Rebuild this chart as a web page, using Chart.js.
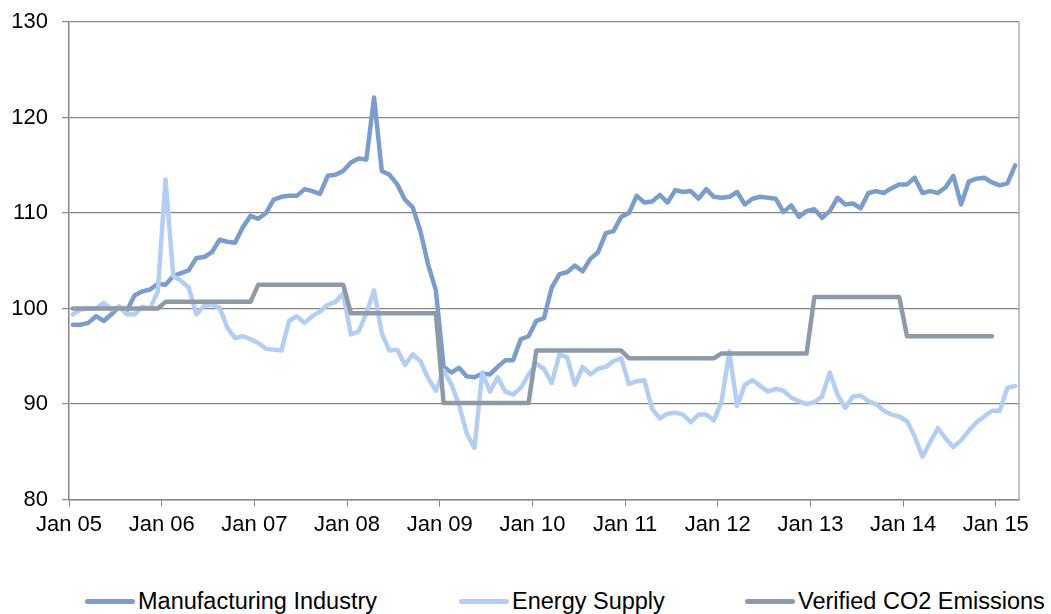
<!DOCTYPE html>
<html>
<head>
<meta charset="utf-8">
<script src="https://cdn.jsdelivr.net/npm/chart.js@4.4.1/dist/chart.umd.min.js"></script>
<style>
    html, body { margin: 0; padding: 0; background: #fff; }
    #wrap { position: relative; width: 1051px; height: 614px; overflow: hidden; }
    #chartBox { position: absolute; left: 0; top: 0; width: 1051px; height: 543px; }
    .legend-item {
        position: absolute; top: 588px; display: flex; align-items: center;
        font: 23.5px "Liberation Sans", Arial, sans-serif; color: #000; white-space: nowrap;
    }
    .legend-line { width: 50px; height: 5px; border-radius: 3px; margin-right: 3px; }
</style>
</head>
<body>
<div id="wrap">
    <div id="chartBox"><canvas id="chartEmissions"></canvas></div>
    <div id="legend"></div>
</div>
<script>
// Tick labels (one per January)
const yearLabels = ['Jan 05', 'Jan 06', 'Jan 07', 'Jan 08', 'Jan 09', 'Jan 10',
    'Jan 11', 'Jan 12', 'Jan 13', 'Jan 14', 'Jan 15'];

// Monthly index, Jan 2005 - Mar 2015
const manufacturing = [
    98.3, 98.3, 98.5, 99.2, 98.7, 99.4, 100.2, 99.8, 101.4, 101.8, 102.0, 102.6,
    102.5, 103.4, 103.7, 104.0, 105.3, 105.4, 105.9, 107.2, 107.0, 106.9, 108.5, 109.7,
    109.4, 110.0, 111.4, 111.7, 111.8, 111.8, 112.5, 112.3, 112.0, 113.9, 114.0, 114.4,
    115.3, 115.7, 115.6, 122.1, 114.4, 114.0, 113.0, 111.4, 110.6, 108.1, 104.6, 101.9,
    93.9, 93.3, 93.8, 92.9, 92.8, 93.2, 93.1, 93.9, 94.6, 94.6, 96.8, 97.1,
    98.7, 99.0, 102.2, 103.6, 103.8, 104.5, 103.9, 105.2, 105.9, 107.9, 108.1, 109.6,
    110.0, 111.8, 111.1, 111.2, 111.9, 111.1, 112.4, 112.2, 112.3, 111.5, 112.5, 111.7,
    111.6, 111.7, 112.2, 110.9, 111.5, 111.7, 111.6, 111.5, 110.1, 110.8, 109.6, 110.2,
    110.4, 109.5, 110.2, 111.6, 110.9, 111.0, 110.5, 112.1, 112.3, 112.1, 112.6, 113.0,
    113.0, 113.7, 112.1, 112.3, 112.1, 112.7, 113.9, 110.9, 113.3, 113.6, 113.7, 113.2,
    112.9, 113.1, 115.0
];

const energySupply = [
    99.4, 99.9, 100.0, 100.0, 100.6, 99.9, 100.2, 99.4, 99.4, 100.2, 100.0, 101.8,
    113.5, 103.4, 102.9, 102.2, 99.4, 100.3, 100.4, 100.1, 98.0, 96.9, 97.1, 96.8,
    96.4, 95.8, 95.7, 95.6, 98.7, 99.2, 98.5, 99.2, 99.7, 100.4, 100.7, 101.6,
    97.3, 97.6, 99.5, 101.9, 97.4, 95.6, 95.7, 94.1, 95.2, 94.5, 92.7, 91.4,
    93.5, 92.1, 89.9, 86.9, 85.4, 93.3, 91.3, 92.8, 91.3, 91.0, 91.7, 93.1,
    94.2, 93.7, 92.2, 95.2, 94.9, 92.0, 93.9, 93.1, 93.7, 93.9, 94.5, 94.8,
    92.1, 92.4, 92.5, 89.5, 88.5, 89.0, 89.1, 88.9, 88.1, 88.9, 88.9, 88.3,
    90.3, 95.5, 89.8, 92.0, 92.5, 91.9, 91.3, 91.6, 91.4, 90.7, 90.3, 90.0,
    90.2, 90.8, 93.3, 91.0, 89.6, 90.8, 90.9, 90.3, 90.0, 89.3, 88.9, 88.7,
    88.2, 86.6, 84.5, 86.0, 87.5, 86.4, 85.5, 86.2, 87.2, 88.1, 88.7, 89.3,
    89.3, 91.7, 91.9
];

// Verified CO2 emissions, one value per year 2005 - 2014
const verifiedCO2 = [100.0, 100.7, 102.5, 99.5, 90.1, 95.6, 94.8, 95.3, 101.2, 97.1];

const fontFamily = '"Liberation Sans", Arial, sans-serif';
const gridGrey = '#868686';

// monthly series -> points centred in each month slot
function toPoints(values) {
    return values.map((v, i) => ({ x: i + 0.5, y: v }));
}

// yearly value held flat from January to December
function yearlyPoints(values) {
    const pts = [];
    values.forEach((v, yr) => {
        for (let m = 0; m < 12; m++) {
            pts.push({ x: yr * 12 + m + 0.5, y: v });
        }
    });
    return pts;
}

const series = [
    { label: 'Manufacturing Industry', data: toPoints(manufacturing), color: '#7c9dcc', order: 3 },
    { label: 'Energy Supply', data: toPoints(energySupply), color: '#b4cdf2', order: 2 },
    { label: 'Verified CO2 Emissions', data: yearlyPoints(verifiedCO2), color: '#8e9ba6', order: 1 }
];

// right-hand frame of the plot area
const plotFrame = {
    id: 'plotFrame',
    afterDatasetsDraw(chart) {
        const { ctx, chartArea } = chart;
        ctx.save();
        ctx.strokeStyle = '#a7afb9';
        ctx.lineWidth = 1.5;
        ctx.beginPath();
        ctx.moveTo(chartArea.right, chartArea.top);
        ctx.lineTo(chartArea.right, chartArea.bottom);
        ctx.stroke();
        ctx.restore();
    }
};

const chartEmissions = new Chart(document.getElementById('chartEmissions'), {
    type: 'line',
    data: {
        datasets: series.map(s => ({
            label: s.label,
            data: s.data,
            borderColor: s.color,
            backgroundColor: s.color,
            borderWidth: 4.5,
            pointRadius: 0,
            tension: 0,
            fill: false,
            borderJoinStyle: 'round',
            borderCapStyle: 'round',
            order: s.order
        }))
    },
    plugins: [plotFrame],
    options: {
        responsive: true,
        maintainAspectRatio: false,
        animation: false,
        layout: { padding: { left: 11, right: 32, top: 22, bottom: 0 } },
        plugins: {
            legend: { display: false },
            tooltip: { enabled: false }
        },
        scales: {
            x: {
                type: 'linear',
                min: 0,
                max: 123,
                grid: { drawOnChartArea: false, drawTicks: true, tickLength: 7, color: gridGrey },
                border: { color: gridGrey, width: 1.5 },
                ticks: {
                    stepSize: 12,
                    includeBounds: false,
                    autoSkip: false,
                    maxRotation: 0,
                    padding: 5,
                    color: '#000',
                    font: { size: 22, family: fontFamily },
                    callback: function(value) {
                        return yearLabels[value / 12] || '';
                    }
                }
            },
            y: {
                min: 80,
                max: 130,
                afterFit: function(scale) {
                    scale.width = 58;
                    scale.paddingTop = 0;
                },
                grid: { color: gridGrey, lineWidth: 1.2, tickLength: 7 },
                border: { color: gridGrey, width: 1.5 },
                ticks: {
                    stepSize: 10,
                    padding: 14,
                    color: '#000',
                    font: { size: 22, family: fontFamily }
                }
            }
        }
    }
});

// legend below the chart
const legendLeft = [85, 459, 745];
const legendEl = document.getElementById('legend');
series.forEach((s, i) => {
    const item = document.createElement('div');
    item.className = 'legend-item';
    item.style.left = legendLeft[i] + 'px';
    item.innerHTML = '<span class="legend-line" style="background:' + s.color + '"></span><span>' + s.label + '</span>';
    legendEl.appendChild(item);
});
</script>
</body>
</html>
